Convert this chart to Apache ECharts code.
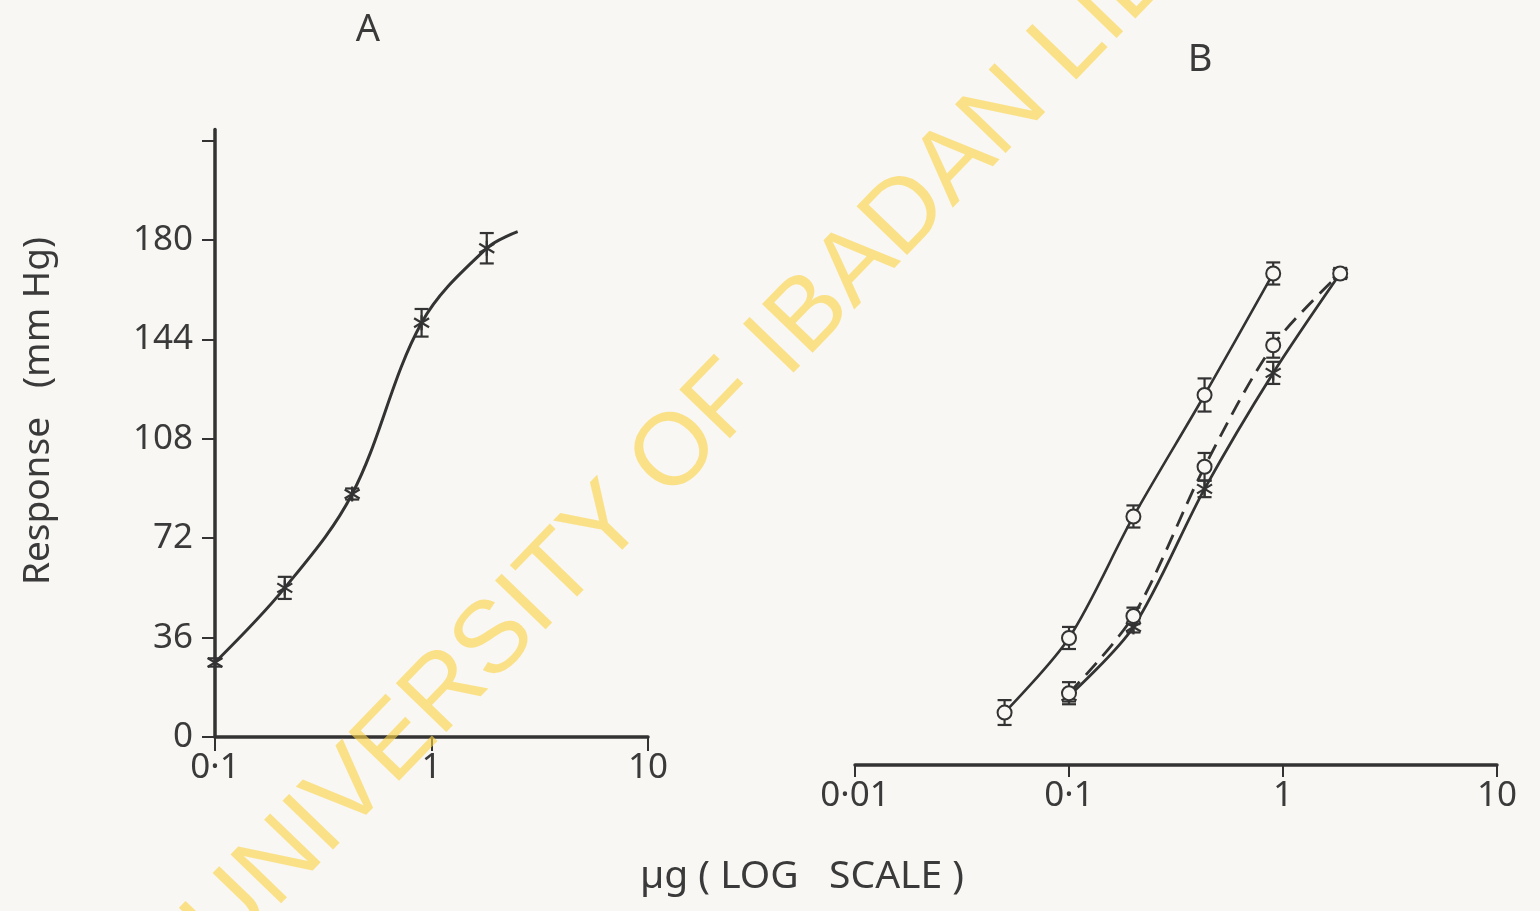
<!DOCTYPE html>
<html>
<head>
<meta charset="utf-8">
<script src="https://cdn.jsdelivr.net/npm/echarts@6/dist/echarts.min.js"></script>
<style>
html,body{margin:0;padding:0;background:#f8f7f3;}
#chart{width:1540px;height:911px;}
</style>
</head>
<body>
<div id="chart"></div>
<script>
// ---------- data ----------
// Panel A (single agonist, asterisk markers)
const aDose = [0.1, 0.21, 0.43, 0.9, 1.8];
const aResp = [27, 54, 88, 150, 177];
const aErr  = [1.5, 4, 2, 5, 5.5];
const aCurveDose = [0.1, 0.21, 0.43, 0.9, 1.8, 2.5];
const aCurveResp = [27, 54, 88, 150, 177, 183];

// Panel B, curve 1 (solid, open circles, leftmost)
const b1Dose = [0.05, 0.1, 0.2, 0.43, 0.9];
const b1Resp = [19, 46, 90, 134, 178];
const b1Err  = [4.5, 4, 4, 6, 4];
// Panel B, curve 2 (dashed, open circles)
const b2Dose = [0.1, 0.2, 0.43, 0.9, 1.85];
const b2Resp = [26, 54, 108, 152, 178];
const b2Err  = [4, 3, 5, 4.5, 2];
// Panel B, curve 3 (solid, crosses)
const b3Dose = [0.1, 0.2, 0.43, 0.9, 1.85];
const b3Resp = [25, 50, 100, 142, 178];
const b3Err  = [2, 2, 3, 4, 0];

const yTicks = [0, 36, 72, 108, 144, 180];
const xTicksA = {0.1: '0·1', 1: '1', 10: '10'};
const xTicksB = {0.01: '0·01', 0.1: '0·1', 1: '1', 10: '10'};

// ---------- helpers ----------
const INK = '#333333';
const BG = '#f8f7f3';
const FONT = '"Noto Sans", "DejaVu Sans", sans-serif';

function pts(xs, ys) { return xs.map((x, i) => [x, ys[i]]); }
function errPts(xs, ys, es) { return xs.map((x, i) => [x, ys[i], es[i]]); }

function errRender(marker) {
  return function (params, api) {
    const x = api.value(0), y = api.value(1), e = api.value(2);
    const p = api.coord([x, y]);
    const t = api.coord([x, y + e]);
    const b = api.coord([x, y - e]);
    const cap = 7;
    const st = {stroke: INK, lineWidth: 2.2, fill: 'none'};
    const ch = [];
    if (e > 0) {
      ch.push({type: 'line', shape: {x1: p[0], y1: t[1], x2: p[0], y2: b[1]}, style: st});
      ch.push({type: 'line', shape: {x1: p[0] - cap, y1: t[1], x2: p[0] + cap, y2: t[1]}, style: st});
      ch.push({type: 'line', shape: {x1: p[0] - cap, y1: b[1], x2: p[0] + cap, y2: b[1]}, style: st});
    }
    if (marker === 'circle') {
      ch.push({type: 'circle', shape: {cx: p[0], cy: p[1], r: 7},
        style: {stroke: INK, lineWidth: 2, fill: BG}});
    } else {
      const r = 7.5;
      ch.push({type: 'line', shape: {x1: p[0] - r, y1: p[1] - r * 0.6, x2: p[0] + r, y2: p[1] + r * 0.6}, style: st});
      ch.push({type: 'line', shape: {x1: p[0] - r, y1: p[1] + r * 0.6, x2: p[0] + r, y2: p[1] - r * 0.6}, style: st});
      ch.push({type: 'line', shape: {x1: p[0], y1: p[1] - r, x2: p[0], y2: p[1] + r}, style: st});
    }
    return {type: 'group', children: ch};
  };
}

const lblStyle = {color: '#3a3a3a', fontSize: 35, fontFamily: FONT};

const chart = echarts.init(document.getElementById('chart'), null, {renderer: 'canvas'});
chart.setOption({
  backgroundColor: BG,
  animation: false,
  grid: [
    {left: 215, top: 129.5, width: 433, height: 607.5},
    {left: 855, top: 157.5, width: 642, height: 607.5}
  ],
  xAxis: [
    {
      gridIndex: 0, type: 'log', logBase: 10, min: 0.1, max: 10,
      axisLine: {lineStyle: {color: INK, width: 3.5}},
      axisTick: {show: true, length: 14, inside: false, lineStyle: {color: INK, width: 2}},
      minorTick: {show: false}, splitLine: {show: false},
      axisLabel: Object.assign({margin: 14, showMinLabel: true, showMaxLabel: true,
        formatter: v => xTicksA[+v.toPrecision(3)] || ''}, lblStyle)
    },
    {
      gridIndex: 1, type: 'log', logBase: 10, min: 0.01, max: 10,
      axisLine: {lineStyle: {color: INK, width: 3.5}},
      axisTick: {show: true, length: 12, lineStyle: {color: INK, width: 2}},
      splitLine: {show: false},
      axisLabel: Object.assign({margin: 14, showMinLabel: true, showMaxLabel: true,
        formatter: v => xTicksB[+v.toPrecision(3)] || ''}, lblStyle)
    }
  ],
  yAxis: [
    {
      gridIndex: 0, type: 'value', min: 0, max: 220, interval: 36,
      axisLine: {show: true, lineStyle: {color: INK, width: 3.5}},
      axisTick: {show: true, length: 13, lineStyle: {color: INK, width: 2}},
      splitLine: {show: false},
      axisLabel: Object.assign({margin: 22, showMaxLabel: false,
        formatter: v => (yTicks.indexOf(v) >= 0 ? String(v) : '')}, lblStyle)
    },
    {gridIndex: 1, type: 'value', min: 0, max: 220, show: false}
  ],
  series: [
    {type: 'line', xAxisIndex: 0, yAxisIndex: 0, data: pts(aCurveDose, aCurveResp),
      smooth: 0.35, showSymbol: false, lineStyle: {color: INK, width: 3}, z: 2},
    {type: 'custom', xAxisIndex: 0, yAxisIndex: 0, data: errPts(aDose, aResp, aErr),
      renderItem: errRender('star'), encode: {x: 0, y: 1}, z: 3},

    {type: 'line', xAxisIndex: 1, yAxisIndex: 1, data: pts(b1Dose, b1Resp),
      smooth: 0.3, showSymbol: false, lineStyle: {color: INK, width: 2.6}, z: 2},
    {type: 'line', xAxisIndex: 1, yAxisIndex: 1, data: pts(b2Dose, b2Resp),
      smooth: 0.3, showSymbol: false, lineStyle: {color: INK, width: 2.8, type: [16, 9]}, z: 2},
    {type: 'line', xAxisIndex: 1, yAxisIndex: 1, data: pts(b3Dose, b3Resp),
      smooth: 0.3, showSymbol: false, lineStyle: {color: INK, width: 2.8}, z: 2},
    {type: 'custom', xAxisIndex: 1, yAxisIndex: 1, data: errPts(b3Dose, b3Resp, b3Err),
      renderItem: errRender('star'), encode: {x: 0, y: 1}, z: 3},
    {type: 'custom', xAxisIndex: 1, yAxisIndex: 1, data: errPts(b2Dose, b2Resp, b2Err),
      renderItem: errRender('circle'), encode: {x: 0, y: 1}, z: 4},
    {type: 'custom', xAxisIndex: 1, yAxisIndex: 1, data: errPts(b1Dose, b1Resp, b1Err),
      renderItem: errRender('circle'), encode: {x: 0, y: 1}, z: 4}
  ],
  graphic: [
    {type: 'text', x: 368, y: 30, z: 50,
      style: {text: 'A', fontSize: 38, fontFamily: FONT, fill: '#3a3a3a',
        align: 'center', verticalAlign: 'middle', textAlign: 'center', textVerticalAlign: 'middle'}},
    {type: 'text', x: 1200, y: 60, z: 50,
      style: {text: 'B', fontSize: 38, fontFamily: FONT, fill: '#3a3a3a',
        align: 'center', verticalAlign: 'middle', textAlign: 'center', textVerticalAlign: 'middle'}},
    {type: 'text', x: 38, y: 411, rotation: Math.PI / 2, z: 50,
      style: {text: 'Response   (mm Hg)', fontSize: 37, fontFamily: FONT, fill: '#3a3a3a',
        align: 'center', verticalAlign: 'middle', textAlign: 'center', textVerticalAlign: 'middle'}},
    {type: 'text', x: 802, y: 877, z: 50,
      style: {text: 'µg ( LOG   SCALE )', fontSize: 39, fontFamily: FONT, fill: '#3a3a3a',
        align: 'center', verticalAlign: 'middle', textAlign: 'center', textVerticalAlign: 'middle'}},
    {type: 'text', x: 778, y: 348, rotation: 46 * Math.PI / 180, z: 100,
      style: {text: 'UNIVERSITY OF IBADAN LIBRARY', fontSize: 102,
        fontFamily: '"Liberation Sans", Arial, sans-serif', fill: 'rgba(252,212,70,0.62)',
        align: 'center', verticalAlign: 'middle', textAlign: 'center', textVerticalAlign: 'middle'}}
  ]
});
</script>
</body>
</html>
